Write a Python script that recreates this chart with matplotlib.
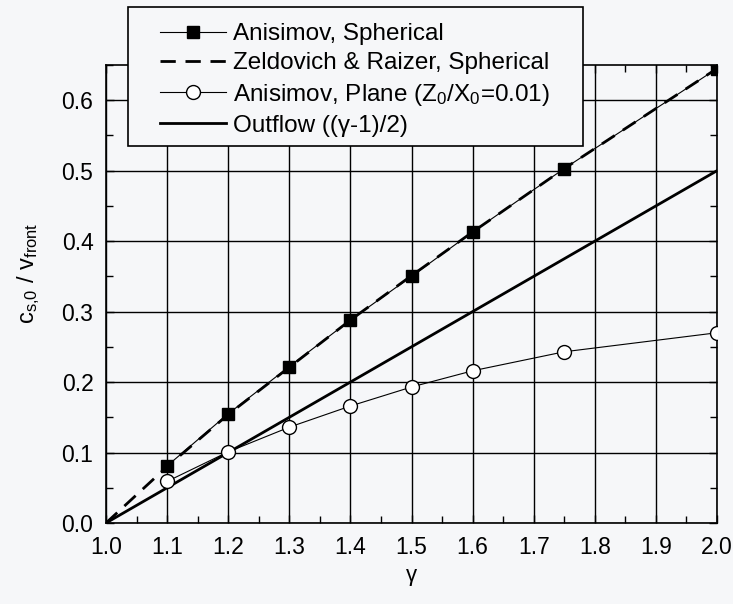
import matplotlib
matplotlib.use("Agg")
import matplotlib.pyplot as plt
from matplotlib.patches import Rectangle
from matplotlib.ticker import MultipleLocator

plt.rcParams['font.family'] = ['Liberation Sans', 'DejaVu Sans']
plt.rcParams['mathtext.fontset'] = 'custom'
plt.rcParams['mathtext.rm'] = 'Liberation Sans'
plt.rcParams['mathtext.it'] = 'Liberation Sans:italic'

# adiabatic index
gamma_pts = [1.1, 1.2, 1.3, 1.4, 1.5, 1.6, 1.75, 2.0]
# Anisimov solution, spherical expansion
anis_sph = [0.081, 0.155, 0.222, 0.288, 0.350, 0.413, 0.503, 0.645]
# Zeldovich & Raizer, spherical
zr_gamma = [1.0, 1.1, 1.2, 1.3, 1.4, 1.5, 1.6, 1.75, 2.0]
zr_sph = [0.0, 0.080, 0.154, 0.221, 0.288, 0.351, 0.413, 0.503, 0.645]
# Anisimov solution, plane geometry (Z0/X0 = 0.01)
anis_plane = [0.059, 0.101, 0.136, 0.166, 0.193, 0.216, 0.243, 0.270]
# outflow estimate (gamma-1)/2
out_gamma = [1.0, 2.0]
outflow = [0.0, 0.5]

bg = '#f6f7f9'
fig = plt.figure(figsize=(7.33, 6.04), dpi=100, facecolor=bg)
ax = fig.add_axes([106 / 733, 81 / 604, 611 / 733, 458 / 604])
ax.set_facecolor(bg)

ax.plot(gamma_pts, anis_sph, color='black', lw=0.8, marker='s', ms=8.5,
        mfc='black', mec='black', label='Anisimov, Spherical', zorder=4)
ax.plot(zr_gamma, zr_sph, color='black', lw=2.0, ls=(0, (5.5, 3.5)),
        label='Zeldovich & Raizer, Spherical', zorder=5)
ax.plot(gamma_pts, anis_plane, color='black', lw=0.8, marker='o', ms=10,
        mfc='white', mec='black', mew=1.0,
        label=r'Anisimov, Plane (Z$_0$/X$_0$=0.01)', zorder=4)
ax.plot(out_gamma, outflow, color='black', lw=2.0,
        label='Outflow ((γ-1)/2)', zorder=3)

ax.set_xlim(1.0, 2.0)
ax.set_ylim(0.0, 0.65)
ax.xaxis.set_major_locator(MultipleLocator(0.1))
ax.xaxis.set_minor_locator(MultipleLocator(0.05))
ax.yaxis.set_major_locator(MultipleLocator(0.1))
ax.yaxis.set_minor_locator(MultipleLocator(0.05))
ax.xaxis.set_major_formatter(matplotlib.ticker.FormatStrFormatter('%.1f'))
ax.yaxis.set_major_formatter(matplotlib.ticker.FormatStrFormatter('%.1f'))
ax.grid(True, which='major', color='black', lw=1.0)
ax.tick_params(which='both', direction='in', top=True, right=True,
               labelsize=16.5, width=1.0, color='black')
ax.tick_params(which='major', length=6, pad=9)
ax.tick_params(which='minor', length=5)
for s in ax.spines.values():
    s.set_linewidth(1.2)

ax.set_xlabel('γ', fontsize=16, labelpad=5)
ax.set_ylabel(r'c$_{\mathrm{s}{,}\mathrm{0}}$ / v$_{\mathrm{front}}$', fontsize=17)
ax.yaxis.set_label_coords(-0.105, 0.546)

# legend box sits partly above the plot area
box = Rectangle((128 / 733, 1 - 146 / 604), 455 / 733, 139 / 604,
                transform=fig.transFigure, facecolor=bg, edgecolor='black',
                lw=1.2, zorder=10)
fig.add_artist(box)
leg = fig.legend(loc='upper left', bbox_to_anchor=(160 / 733, 1 - 23 / 604),
                 bbox_transform=fig.transFigure, frameon=False, fontsize=17.5,
                 borderpad=0, borderaxespad=0, handlelength=2.7,
                 handletextpad=0.3, labelspacing=0.3, numpoints=1)
leg.set_zorder(11)

fig.savefig('out.png', dpi=100, facecolor=bg)
